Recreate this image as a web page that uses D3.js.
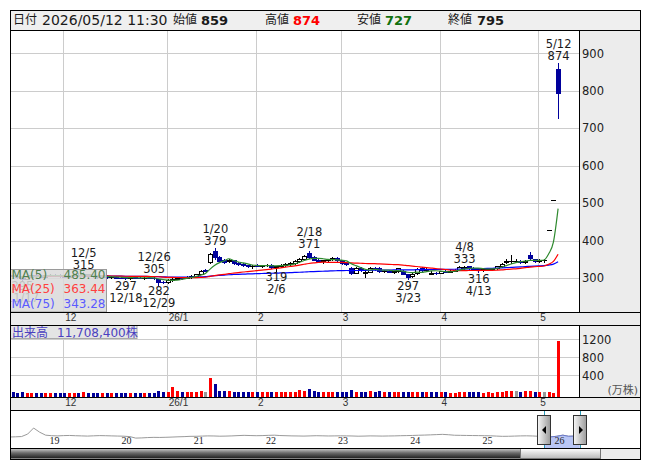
<!DOCTYPE html>
<html>
<head>
<meta charset="utf-8">
<script src="https://cdn.jsdelivr.net/npm/d3@7"></script>
<style>
  body { margin: 0; background: #fff; }
</style>
</head>
<body>
<script>
// trading days shown in the window (2025/11/13 - 2026/05/12)
var dates = [
  "2025-11-13","2025-11-14","2025-11-17","2025-11-18","2025-11-19","2025-11-20","2025-11-21","2025-11-25","2025-11-26","2025-11-27","2025-11-28",
  "2025-12-01","2025-12-02","2025-12-03","2025-12-04","2025-12-05","2025-12-08","2025-12-09","2025-12-10","2025-12-11","2025-12-12",
  "2025-12-15","2025-12-16","2025-12-17","2025-12-18","2025-12-19","2025-12-22","2025-12-23","2025-12-24","2025-12-25","2025-12-26","2025-12-29","2025-12-30",
  "2026-01-05","2026-01-06","2026-01-07","2026-01-08","2026-01-09","2026-01-13","2026-01-14","2026-01-15","2026-01-16",
  "2026-01-19","2026-01-20","2026-01-21","2026-01-22","2026-01-23","2026-01-26","2026-01-27","2026-01-28","2026-01-29","2026-01-30",
  "2026-02-02","2026-02-03","2026-02-04","2026-02-05","2026-02-06","2026-02-09","2026-02-10","2026-02-12","2026-02-13",
  "2026-02-16","2026-02-17","2026-02-18","2026-02-19","2026-02-20","2026-02-24","2026-02-25","2026-02-26","2026-02-27",
  "2026-03-02","2026-03-03","2026-03-04","2026-03-05","2026-03-06","2026-03-09","2026-03-10","2026-03-11","2026-03-12","2026-03-13",
  "2026-03-16","2026-03-17","2026-03-18","2026-03-19","2026-03-23","2026-03-24","2026-03-25","2026-03-26","2026-03-27","2026-03-30","2026-03-31",
  "2026-04-01","2026-04-02","2026-04-03","2026-04-06","2026-04-07","2026-04-08","2026-04-09","2026-04-10",
  "2026-04-13","2026-04-14","2026-04-15","2026-04-16","2026-04-17","2026-04-20","2026-04-21","2026-04-22","2026-04-23","2026-04-24",
  "2026-04-27","2026-04-28","2026-04-30",
  "2026-05-01","2026-05-07","2026-05-08","2026-05-11","2026-05-12"
];

var opens = [
  308,306,302,298,304,308,305,304,307,309,307,
  305,304,307,309,308,310,306,305,303,304,
  302,303,301,300,299,302,301,300,301,300,296,290,
  289,294,298,301,300,303,305,311,322,
  343,373,355,347,345,347,340,337,334,331,
  335,332,334,335,329,331,335,338,340,
  345,352,368,357,349,345,347,350,354,
  347,340,328,314,327,313,316,327,326,318,
  320,317,318,319,310,305,313,328,322,312,314,
  314,318,317,320,322,326,331,326,
  324,321,323,325,326,331,344,345,346,346,
  342,361,350,
  345,347,428,508,859
];
var highs = [
  312,309,304,305,310,312,308,309,311,312,310,
  308,309,311,313,315,312,308,307,306,307,
  305,305,304,302,303,304,303,302,303,305,297,293,
  296,300,303,304,305,308,312,322,324,
  366,379,358,352,350,349,343,340,336,335,
  338,336,338,337,333,337,340,342,347,
  354,362,371,360,352,349,352,356,355,
  349,344,330,329,329,320,329,330,329,322,
  322,320,328,322,312,314,326,330,326,320,316,
  320,321,322,324,331,333,332,329,
  326,325,327,328,332,340,352,361,351,349,
  348,369,352,
  350,351,428,508,874
];
var lows = [
  305,301,295,297,302,305,302,302,305,306,304,
  302,303,305,306,306,305,303,301,300,301,
  299,300,299,297,298,299,299,298,299,298,282,286,
  287,292,296,298,299,301,303,310,318,
  340,352,343,341,342,337,335,332,329,328,
  331,329,332,328,319,329,332,335,338,
  343,350,354,347,343,341,344,347,345,
  338,335,311,313,320,303,315,322,315,316,
  316,314,317,310,297,304,312,320,319,310,310,
  313,315,316,318,321,323,324,322,
  316,319,321,323,325,330,340,341,342,341,
  340,352,344,
  343,344,428,508,727
];
var closes = [
  306,303,298,304,308,306,304,307,309,307,305,
  304,307,309,308,310,306,305,303,304,302,
  303,301,300,299,302,301,300,301,300,299,290,288,
  294,298,301,300,303,305,311,320,320,
  363,356,346,344,348,339,337,334,331,333,
  332,334,335,330,331,335,338,340,345,
  352,359,357,349,345,347,350,354,347,
  340,337,314,327,322,316,327,324,318,320,
  317,318,326,312,304,312,324,322,324,314,313,
  318,317,320,322,329,330,326,325,
  321,323,325,327,331,338,345,346,346,344,
  345,353,346,
  348,348,428,508,795
];
// 出来高 (万株)
var volumes = [
  18,14,22,16,15,12,13,12,14,12,11,
  12,11,13,12,18,12,11,12,10,11,
  10,12,11,14,12,10,9,9,10,16,62,35,
  30,145,55,22,20,28,40,44,25,
  347,207,60,48,45,40,32,30,28,30,
  26,24,24,28,30,24,22,22,30,
  70,60,90,55,35,28,26,30,28,
  25,24,73,40,30,32,45,28,50,26,
  22,24,30,28,34,24,38,32,26,22,20,
  18,18,17,16,20,26,24,18,
  20,16,18,17,20,40,52,50,46,40,
  42,55,40,
  35,30,22,8,1170.84
];

// marked highs / lows
var markDates = ["2025-11-17","2025-12-05","2025-12-18","2025-12-26","2025-12-29","2026-01-20","2026-02-06","2026-02-18","2026-03-23","2026-04-08","2026-04-13","2026-05-12"];
var markTypes = ["low","high","low","high","low","high","low","high","low","high","low","high"];

var priceTicks = [300, 400, 500, 600, 700, 800, 900];
var volTicks = [400, 800, 1200];
var maPeriods = [5, 25, 75];
var maColors = ["#2f8a2f", "#ff0000", "#0000ff"];
var maTextColors = ["#4f804f", "#ff4040", "#5a5aff"];

// navigator: long history, mid-month closes
var navDates = [
  "2018-06-15","2018-07-15","2018-08-15","2018-09-15","2018-10-15","2018-11-15","2018-12-15",
  "2019-01-15","2019-02-15","2019-03-15","2019-04-15","2019-05-15","2019-06-15","2019-07-15","2019-08-15","2019-09-15","2019-10-15","2019-11-15","2019-12-15",
  "2020-01-15","2020-02-15","2020-03-15","2020-04-15","2020-05-15","2020-06-15","2020-07-15","2020-08-15","2020-09-15","2020-10-15","2020-11-15","2020-12-15",
  "2021-01-15","2021-02-15","2021-03-15","2021-04-15","2021-05-15","2021-06-15","2021-07-15","2021-08-15","2021-09-15","2021-10-15","2021-11-15","2021-12-15",
  "2022-01-15","2022-02-15","2022-03-15","2022-04-15","2022-05-15","2022-06-15","2022-07-15","2022-08-15","2022-09-15","2022-10-15","2022-11-15","2022-12-15",
  "2023-01-15","2023-02-15","2023-03-15","2023-04-15","2023-05-15","2023-06-15","2023-07-15","2023-08-15","2023-09-15","2023-10-15","2023-11-15","2023-12-15",
  "2024-01-15","2024-02-15","2024-03-15","2024-04-15","2024-05-15","2024-06-15","2024-07-15","2024-08-15","2024-09-15","2024-10-15","2024-11-15","2024-12-15",
  "2025-01-15","2025-02-15","2025-03-15","2025-04-15","2025-05-15","2025-06-15","2025-07-15","2025-08-15","2025-09-15","2025-10-15","2025-11-15","2025-12-15",
  "2026-01-15","2026-02-15","2026-03-15","2026-04-15","2026-05-12"
];
var navCloses = [
  300,305,312,380,545,430,350,
  335,330,338,342,335,330,325,332,338,335,330,326,
  322,310,270,275,285,290,288,292,298,305,310,318,
  320,325,330,328,322,325,330,338,345,340,335,338,
  345,350,340,335,330,328,325,330,335,332,328,330,
  332,330,328,322,325,330,328,325,328,330,335,338,
  342,348,352,358,365,372,362,348,345,342,340,338,
  335,332,325,318,320,325,330,332,328,320,308,302,
  320,350,320,325,795
];
var navYears = [2019, 2020, 2021, 2022, 2023, 2024, 2025, 2026];

var W = 653, H = 470;
var left = 10, right = 640, axisX = 579;
var mainTop = 30, mainBottom = 312, volTop = 325, volBottom = 397;
var navTop = 410, navBottom = 448, bottom = 459;

var firstIdx = -11; // index of 2025/12/01 is 0
var parse = d3.timeParse("%Y-%m-%d");

var data = dates.map(function(d, k) {
  return {date: d, t: parse(d), i: k + firstIdx, o: opens[k], h: highs[k], l: lows[k], c: closes[k], v: volumes[k]};
});

// moving averages (window grows at the left edge)
maPeriods.forEach(function(n, m) {
  data.forEach(function(d, k) {
    var s = d3.sum(closes.slice(Math.max(0, k - n + 1), k + 1));
    d["ma" + m] = s / Math.min(n, k + 1);
  });
});

var x = d3.scaleLinear().domain([0, 105]).range([64.3, 558.1]);
var y = d3.scaleLinear().domain([300, 900]).range([278.0, 53.3]);
var vy = d3.scaleLinear().domain([0, 1200]).range([393.3, 339.3]);

var svg = d3.select("body").append("svg")
  .attr("width", W).attr("height", H)
  .style("font-family", '"DejaVu Sans", "Noto Sans CJK JP", sans-serif');

var defs = svg.append("defs");
defs.append("clipPath").attr("id", "clipMain").append("rect")
  .attr("x", left).attr("y", mainTop).attr("width", axisX - left).attr("height", mainBottom - mainTop);
defs.append("clipPath").attr("id", "clipVol").append("rect")
  .attr("x", left).attr("y", volTop).attr("width", axisX - left).attr("height", volBottom - volTop);

var g1 = defs.append("linearGradient").attr("id", "track").attr("x1", 0).attr("y1", 0).attr("x2", 0).attr("y2", 1);
g1.append("stop").attr("offset", "0").attr("stop-color", "#cfcfcf");
g1.append("stop").attr("offset", "0.45").attr("stop-color", "#6a6a6a");
g1.append("stop").attr("offset", "1").attr("stop-color", "#1c1c1c");
var g2 = defs.append("linearGradient").attr("id", "thumb").attr("x1", 0).attr("y1", 0).attr("x2", 0).attr("y2", 1);
g2.append("stop").attr("offset", "0").attr("stop-color", "#ffffff");
g2.append("stop").attr("offset", "1").attr("stop-color", "#b8b8b8");
var g3 = defs.append("linearGradient").attr("id", "handle").attr("x1", 0).attr("y1", 0).attr("x2", 1).attr("y2", 0);
g3.append("stop").attr("offset", "0").attr("stop-color", "#f8f8f8");
g3.append("stop").attr("offset", "1").attr("stop-color", "#9a9a9a");

// backgrounds
svg.append("rect").attr("x", left).attr("y", 10).attr("width", right - left).attr("height", bottom - 10).attr("fill", "#fff");
svg.append("rect").attr("x", left).attr("y", 10).attr("width", right - left).attr("height", mainTop - 10).attr("fill", "#efefef");
[[mainTop, mainBottom], [volTop, volBottom]].forEach(function(p) {
  svg.append("rect").attr("x", axisX).attr("y", p[0]).attr("width", right - axisX).attr("height", p[1] - p[0]).attr("fill", "#ececec");
});
[[mainBottom, volTop], [volBottom, navTop]].forEach(function(p) {
  svg.append("rect").attr("x", left).attr("y", p[0]).attr("width", right - left).attr("height", p[1] - p[0]).attr("fill", "#ececec");
});

// month starts
var monthStarts = data.filter(function(d, k) {
  return k > 0 && d.t.getMonth() != data[k - 1].t.getMonth();
});
function monthLabel(d) {
  var m = d.t.getMonth() + 1;
  return m == 1 ? String(d.t.getFullYear()).slice(2) + "/1" : String(m);
}

var grid = svg.append("g").attr("stroke", "#cccccc").attr("stroke-width", 1);
monthStarts.forEach(function(d) {
  var gx = Math.round(x(d.i)) - 0.5;
  grid.append("line").attr("x1", gx).attr("x2", gx).attr("y1", mainTop).attr("y2", mainBottom);
  grid.append("line").attr("x1", gx).attr("x2", gx).attr("y1", volTop).attr("y2", volBottom);
});
priceTicks.forEach(function(t) {
  var gy = Math.round(y(t)) + 0.5;
  grid.append("line").attr("x1", left).attr("x2", axisX).attr("y1", gy).attr("y2", gy);
});
volTicks.forEach(function(t) {
  var gy = Math.round(vy(t)) + 0.5;
  grid.append("line").attr("x1", left).attr("x2", axisX).attr("y1", gy).attr("y2", gy);
});

// candles
var navy = "#00009c";
var candles = svg.append("g").attr("clip-path", "url(#clipMain)");
data.forEach(function(d) {
  var cx = Math.round(x(d.i));
  var down = d.c < d.o;
  var col = down ? navy : "#000";
  candles.append("line").attr("x1", cx + 0.5).attr("x2", cx + 0.5)
    .attr("y1", Math.round(y(d.h))).attr("y2", Math.round(y(d.l)) + 1).attr("stroke", col);
  var top = Math.round(y(Math.max(d.o, d.c))), bot = Math.round(y(Math.min(d.o, d.c)));
  if (bot - top < 1) {
    candles.append("line").attr("x1", cx - 2).attr("x2", cx + 3)
      .attr("y1", top + 0.5).attr("y2", top + 0.5).attr("stroke", col);
  } else if (down) {
    candles.append("rect").attr("x", cx - 2).attr("y", top).attr("width", 5).attr("height", bot - top + 1).attr("fill", navy);
  } else {
    candles.append("rect").attr("x", cx - 1.5).attr("y", top + 0.5).attr("width", 4).attr("height", bot - top)
      .attr("fill", "#fff").attr("stroke", "#000");
  }
});

// moving average lines
[2, 1, 0].forEach(function(m) {
  var line = d3.line()
    .x(function(d) { return x(d.i); })
    .y(function(d) { return y(d["ma" + m]); })
    .curve(d3.curveMonotoneX);
  candles.append("path").datum(data).attr("d", line)
    .attr("fill", "none").attr("stroke", maColors[m]).attr("stroke-width", 1.2);
});

// high / low marks
var byDate = {};
data.forEach(function(d) { byDate[d.date] = d; });
var marks = svg.append("g").attr("clip-path", "url(#clipMain)")
  .attr("font-size", "11.5px").attr("fill", "#1a1a1a").attr("text-anchor", "middle");
markDates.forEach(function(md, j) {
  var d = byDate[md];
  var label = (d.t.getMonth() + 1) + "/" + d.t.getDate();
  var cx = x(d.i) + 0.5;
  if (markTypes[j] == "high") {
    marks.append("text").attr("x", cx).attr("y", y(d.h) - 15).text(label);
    marks.append("text").attr("x", cx).attr("y", y(d.h) - 3).text(d.h);
  } else {
    marks.append("text").attr("x", cx).attr("y", y(d.l) + 10.5).text(d.l);
    marks.append("text").attr("x", cx).attr("y", y(d.l) + 22.5).text(label);
  }
});

// MA legend
var last = data[data.length - 1];
var leg = svg.append("g");
leg.append("rect").attr("x", left + 0.5).attr("y", 269.5).attr("width", 96).attr("height", mainBottom - 269.5)
  .attr("fill", "#dadada").attr("fill-opacity", 0.86).attr("stroke", "#9a9a9a");
maPeriods.forEach(function(n, m) {
  var ty = 279 + m * 14.3;
  leg.append("text").attr("x", 11.5).attr("y", ty).attr("font-size", "12px").attr("fill", maTextColors[m]).text("MA(" + n + ")");
  leg.append("text").attr("x", 105.5).attr("y", ty).attr("font-size", "12px").attr("fill", maTextColors[m])
    .attr("text-anchor", "end").text(last["ma" + m].toFixed(2));
});

// volume bars
var vols = svg.append("g").attr("clip-path", "url(#clipVol)");
data.forEach(function(d, k) {
  var prev = k > 0 ? data[k - 1].c : d.o;
  var col = d.c > prev ? "#ff0000" : (d.c < prev ? "#000099" : "#999999");
  var top = Math.round(vy(d.v));
  vols.append("rect").attr("x", Math.round(x(d.i)) - 1).attr("y", top)
    .attr("width", 3).attr("height", volBottom - top).attr("fill", col);
});
var volLab = svg.append("g");
volLab.append("rect").attr("x", left + 0.5).attr("y", volTop + 0.5).attr("width", 126.5).attr("height", 13)
  .attr("fill", "#e4e4e4").attr("stroke", "#a8a8a8");
volLab.append("text").attr("x", 12).attr("y", 336.5).attr("font-size", "12px").attr("fill", "#4a3fc0").text("出来高");
volLab.append("text").attr("x", 57).attr("y", 336.5).attr("font-size", "12px").attr("fill", "#4a3fc0")
  .text(d3.format(",")(Math.round(last.v * 10000)) + "株");

// axis labels
var ax = svg.append("g").attr("font-size", "11.5px").attr("fill", "#222");
priceTicks.forEach(function(t) {
  ax.append("text").attr("x", 582).attr("y", y(t) + 4.2).text(t);
});
volTicks.forEach(function(t) {
  ax.append("text").attr("x", 582).attr("y", vy(t) + 4.2).text(t);
});
ax.append("text").attr("x", 638).attr("y", 394).attr("text-anchor", "end").attr("font-size", "11px")
  .attr("fill", "#555").text("(万株)");

var dl = svg.append("g").attr("font-family", '"Liberation Sans", sans-serif').attr("font-size", "10px").attr("fill", "#333");
monthStarts.forEach(function(d) {
  dl.append("text").attr("x", x(d.i) + 1).attr("y", mainBottom + 8.7).text(monthLabel(d));
  dl.append("text").attr("x", x(d.i) + 1).attr("y", volBottom + 8.9).text(monthLabel(d));
});

// header
var hd = svg.append("g").attr("fill", "#1a1a1a");
function cjk(tx, s) {
  hd.append("text").attr("x", tx).attr("y", 24.3).attr("font-size", "12px")
    .attr("font-family", '"Noto Sans CJK JP", sans-serif').text(s);
}
function val(tx, v, col) {
  hd.append("text").attr("x", tx).attr("y", 24.5).attr("font-size", "13px").attr("font-weight", "bold")
    .attr("fill", col).text(v);
}
cjk(13, "日付");
hd.append("text").attr("x", 42).attr("y", 24.5).attr("font-size", "14px").text(d3.timeFormat("%Y/%m/%d")(last.t) + " 11:30");
cjk(173, "始値"); val(201, last.o, "#1a1a1a");
cjk(265, "高値"); val(293, last.h, "#ff0000");
cjk(357, "安値"); val(385, last.l, "#107010");
cjk(448, "終値"); val(477, last.c, "#1a1a1a");

// navigator
var nx = d3.scaleTime().domain([new Date(2019, 0, 1), new Date(2026, 0, 1)]).range([49, 554]);
var ny = d3.scaleLinear().domain([0, 900]).range([navBottom, 415]);
var nav = navDates.map(function(d, k) { return {t: parse(d), c: navCloses[k]}; });
var selL = nx(data[0].t), selR = nx(last.t);

defs.append("clipPath").attr("id", "clipNav").append("rect")
  .attr("x", left).attr("y", navTop).attr("width", right - left).attr("height", navBottom - navTop);
defs.append("clipPath").attr("id", "clipSel").append("rect")
  .attr("x", selL).attr("y", navTop).attr("width", selR - selL).attr("height", navBottom - navTop);

var navG = svg.append("g").attr("clip-path", "url(#clipNav)");
var nline = d3.line().x(function(d) { return nx(d.t); }).y(function(d) { return ny(d.c); });
var narea = d3.area().x(function(d) { return nx(d.t); }).y0(navBottom).y1(function(d) { return ny(d.c); });
navG.append("path").datum(nav).attr("d", nline).attr("fill", "none").attr("stroke", "#9a9a9a").attr("stroke-width", 1);
var selG = svg.append("g").attr("clip-path", "url(#clipSel)");
selG.append("path").datum(nav).attr("d", narea).attr("fill", "#b9c6f5");
selG.append("path").datum(nav).attr("d", nline).attr("fill", "none").attr("stroke", "#6a78c8");

// year labels sit above the selection fill
svg.append("g").selectAll("text").data(navYears).enter().append("text")
  .attr("x", function(yr) { return nx(new Date(yr, 0, 1)) + 0.5; })
  .attr("y", 443.5)
  .attr("font-family", '"Liberation Serif", serif').attr("font-size", "10px").attr("fill", "#222")
  .text(function(yr) { return String(yr).slice(2); });

[selL, selR].forEach(function(sx) {
  svg.append("line").attr("x1", Math.round(sx) + 0.5).attr("x2", Math.round(sx) + 0.5)
    .attr("y1", navTop).attr("y2", navBottom).attr("stroke", "#2a9ab8");
});
[[selL, -1], [selR, 1]].forEach(function(p) {
  var hx = Math.round(p[0]);
  svg.append("rect").attr("x", hx - 6.5).attr("y", 415.5).attr("width", 13).attr("height", 29)
    .attr("fill", "url(#handle)").attr("stroke", "#333");
  var tx = hx + 0.5, ty = 430;
  var pts = p[1] < 0 ? [[tx - 2.5, ty], [tx + 1.5, ty - 4], [tx + 1.5, ty + 4]] : [[tx + 2.5, ty], [tx - 1.5, ty - 4], [tx - 1.5, ty + 4]];
  svg.append("path").attr("d", "M" + pts.join("L") + "Z").attr("fill", "#000");
});

// scrollbar
svg.append("rect").attr("x", left).attr("y", navBottom).attr("width", right - left).attr("height", bottom - navBottom).attr("fill", "#ececec");
svg.append("rect").attr("x", left + 0.5).attr("y", navBottom + 0.5).attr("width", 520 - left).attr("height", bottom - navBottom - 1)
  .attr("fill", "url(#track)");
svg.append("rect").attr("x", 520.5).attr("y", navBottom + 0.5).attr("width", 80).attr("height", bottom - navBottom - 1)
  .attr("fill", "url(#thumb)").attr("stroke", "#777");

// frame lines
var fr = svg.append("g").attr("stroke", "#000").attr("fill", "none");
[mainTop, mainBottom, volTop, volBottom, navTop, navBottom].forEach(function(ly) {
  fr.append("line").attr("x1", left).attr("x2", right).attr("y1", ly + 0.5).attr("y2", ly + 0.5);
});
fr.append("line").attr("x1", axisX + 0.5).attr("x2", axisX + 0.5).attr("y1", mainTop).attr("y2", mainBottom);
fr.append("line").attr("x1", axisX + 0.5).attr("x2", axisX + 0.5).attr("y1", volTop).attr("y2", volBottom);
fr.append("rect").attr("x", left + 0.5).attr("y", 10.5).attr("width", right - left).attr("height", bottom - 10);
</script>
</body>
</html>
